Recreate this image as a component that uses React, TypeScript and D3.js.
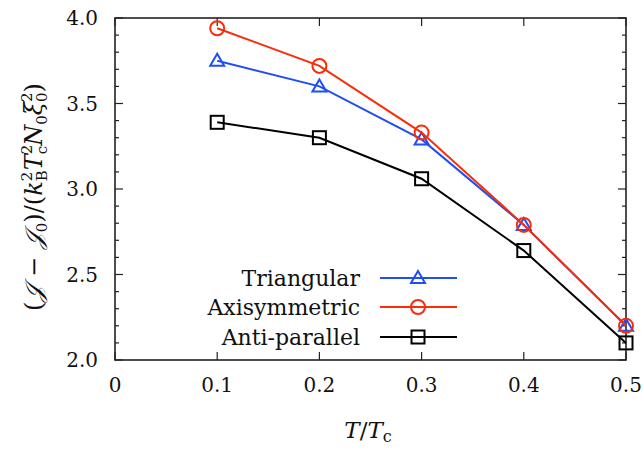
import React from "react";
import * as d3 from "d3";

const temps = [0.1, 0.2, 0.3, 0.4, 0.5];
const triangular = [3.75, 3.6, 3.29, 2.79, 2.2];
const axisymmetric = [3.94, 3.72, 3.33, 2.79, 2.2];
const antiParallel = [3.39, 3.3, 3.06, 2.64, 2.1];
const seriesNames = ["Triangular", "Axisymmetric", "Anti-parallel"];
const xTickValues = [0, 0.1, 0.2, 0.3, 0.4, 0.5];
const xTickLabels = ["0", "0.1", "0.2", "0.3", "0.4", "0.5"];
const yTickValues = [2.0, 2.5, 3.0, 3.5, 4.0];
const yTickLabels = ["2.0", "2.5", "3.0", "3.5", "4.0"];

const W = 643, H = 450;
const L = 115, R = 626, T = 18, B = 360;
const FONT = "'DejaVu Serif', serif";
const BLUE = "#1f4ef5";
const RED = "#fa2d0a";
const BLACK = "#000000";

export default function App() {
  const x = d3.scaleLinear().domain([0, 0.5]).range([L, R]);
  const y = d3.scaleLinear().domain([2, 4]).range([B, T]);
  const line = d3.line<number>().x((_, i) => x(temps[i])).y((d) => y(d));
  const minor = d3.range(20, 41).map((v) => v / 10).filter((v) => Math.round(v * 10) % 5 !== 0);

  const series = [
    { name: seriesNames[0], data: triangular, color: BLUE, marker: "tri" },
    { name: seriesNames[1], data: axisymmetric, color: RED, marker: "circ" },
    { name: seriesNames[2], data: antiParallel, color: BLACK, marker: "sq" },
  ];

  const marker = (m: string, cx: number, cy: number, color: string, key?: any) => {
    if (m === "tri") {
      const s = 7;
      const p = `M${cx},${cy - s} L${cx + s},${cy + s * 0.72} L${cx - s},${cy + s * 0.72} Z`;
      return <path key={key} d={p} fill="none" stroke={color} strokeWidth={2} />;
    }
    if (m === "circ") return <circle key={key} cx={cx} cy={cy} r={7} fill="none" stroke={color} strokeWidth={2} />;
    return <rect key={key} x={cx - 6.5} y={cy - 6.5} width={13} height={13} fill="none" stroke={color} strokeWidth={2} />;
  };

  const legendY = [278, 307, 337];
  const fs = 15;
  const ts = { fontFamily: FONT };

  return (
    <svg width={W} height={H} style={{ position: "absolute", left: 0, top: 0, background: "#fff" }}>
      {yTickValues.map((v) => (
        <g key={"yt" + v}>
          <line x1={L} x2={L + 8} y1={y(v)} y2={y(v)} stroke="#222" strokeWidth={1.2} />
          <line x1={R} x2={R - 8} y1={y(v)} y2={y(v)} stroke="#222" strokeWidth={1.2} />
        </g>
      ))}
      {minor.map((v) => (
        <g key={"ym" + v}>
          <line x1={L} x2={L + 4} y1={y(v)} y2={y(v)} stroke="#222" strokeWidth={1.2} />
          <line x1={R} x2={R - 4} y1={y(v)} y2={y(v)} stroke="#222" strokeWidth={1.2} />
        </g>
      ))}
      {xTickValues.map((v) => (
        <g key={"xt" + v}>
          <line x1={x(v)} x2={x(v)} y1={B} y2={B - 8} stroke="#222" strokeWidth={1.2} />
          <line x1={x(v)} x2={x(v)} y1={T} y2={T + 8} stroke="#222" strokeWidth={1.2} />
        </g>
      ))}
      <rect x={L} y={T} width={R - L} height={B - T} fill="none" stroke="#222" strokeWidth={1.6} />
      {yTickValues.map((v, i) => (
        <text key={"yl" + v} x={L - 17} y={y(v) + 7} textAnchor="end" fontSize={20} fill="#111" style={ts}>
          {yTickLabels[i]}
        </text>
      ))}
      {xTickValues.map((v, i) => (
        <text key={"xl" + v} x={x(v)} y={392} textAnchor="middle" fontSize={20} fill="#111" style={ts}>
          {xTickLabels[i]}
        </text>
      ))}
      {series.map((s) => (
        <g key={s.name}>
          <path d={line(s.data) || ""} fill="none" stroke={s.color} strokeWidth={2} />
          {s.data.map((d, i) => marker(s.marker, x(temps[i]), y(d), s.color, i))}
        </g>
      ))}
      {series.map((s, i) => (
        <g key={"lg" + s.name}>
          <text x={360} y={legendY[i] + 8} textAnchor="end" fontSize={22} fill="#111" style={ts}>
            {s.name}
          </text>
          <line x1={380} x2={457} y1={legendY[i]} y2={legendY[i]} stroke={s.color} strokeWidth={2} />
          {marker(s.marker, 418, legendY[i], s.color)}
        </g>
      ))}
      <text x={368} y={438} textAnchor="middle" fontSize={23} fill="#111" style={ts}>
        <tspan fontStyle="italic">T</tspan>
        <tspan>/</tspan>
        <tspan fontStyle="italic">T</tspan>
        <tspan fontSize={16} dy={4}>c</tspan>
      </text>
      <text transform={`translate(42,${(T + B) / 2 + 8}) rotate(-90)`} textAnchor="middle" fontSize={24} fill="#111" style={ts}>
        <tspan>(</tspan>
        <tspan fontStyle="italic">𝒥</tspan>
        <tspan> − </tspan>
        <tspan fontStyle="italic">𝒥</tspan>
        <tspan fontSize={fs} dy={5}>0</tspan>
        <tspan dy={-5}>)/(</tspan>
        <tspan fontStyle="italic">k</tspan>
        <tspan fontSize={fs} dy={-10}>2</tspan>
        <tspan fontSize={fs} dx={-9.5} dy={15}>B</tspan>
        <tspan fontStyle="italic" dy={-5}>T</tspan>
        <tspan fontSize={fs} dy={-10}>2</tspan>
        <tspan fontSize={fs} dx={-9.5} dy={15}>c</tspan>
        <tspan fontStyle="italic" dy={-5}>N</tspan>
        <tspan fontSize={fs} dy={5}>0</tspan>
        <tspan fontStyle="italic" dy={-5}>ξ</tspan>
        <tspan fontSize={fs} dy={-10}>2</tspan>
        <tspan fontSize={fs} dx={-9.5} dy={15}>0</tspan>
        <tspan dy={-5}>)</tspan>
      </text>
    </svg>
  );
}
